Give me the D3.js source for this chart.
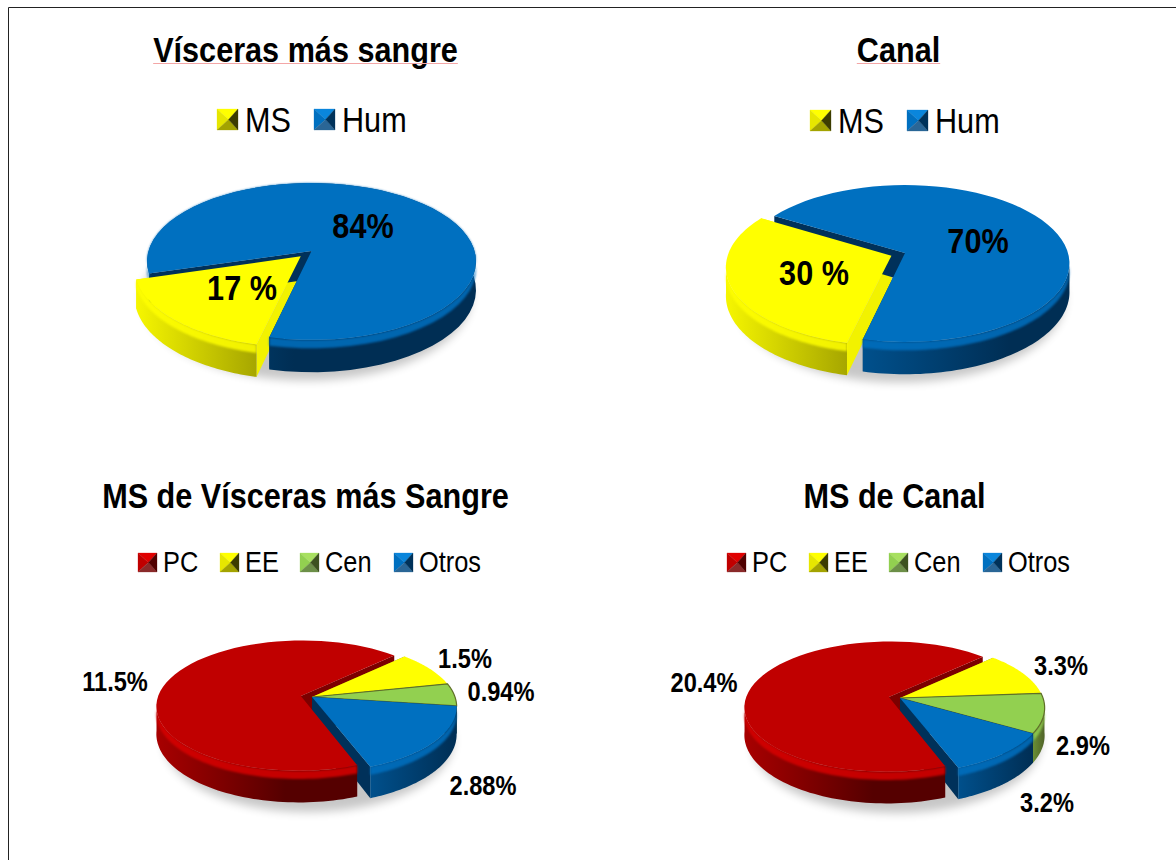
<!DOCTYPE html>
<html>
<head>
<meta charset="utf-8">
<script src="https://cdn.jsdelivr.net/npm/d3@7"></script>
<style>
  html, body { margin: 0; padding: 0; background: #fff; overflow: hidden; }
  text { font-family: "Liberation Sans", sans-serif; fill: #000; }
</style>
</head>
<body>
<div id="chart"></div>
<script>
// values
var humedadNames = ["MS", "Hum"];
var msNames = ["PC", "EE", "Cen", "Otros"];

var visceraValues = [17, 84];
var visceraLabels = ["17 %", "84%"];
var canalValues = [30, 70];
var canalLabels = ["30 %", "70%"];
var msVisceraValues = [11.5, 1.5, 0.94, 2.88];
var msVisceraLabels = ["11.5%", "1.5%", "0.94%", "2.88%"];
var msCanalValues = [20.4, 3.3, 2.9, 3.2];
var msCanalLabels = ["20.4%", "3.3%", "2.9%", "3.2%"];

// key = top, left, bottom, right triangles of the legend square
var palette = {
  MS:    { face: "#ffff00", cut: "#f2f200", wall: ["#f6f600", "#a6a600"], rim: "#ffff00", key: ["#ffff00", "#e6e600", "#a3a300", "#3c3c00"] },
  Hum:   { face: "#0070c0", cut: "#00315a", wall: ["#00508c", "#002e54"], rim: "#0070c0", key: ["#0a86dc", "#0070c0", "#2a6696", "#00325a"] },
  PC:    { face: "#c00000", cut: "#7c0000", wall: ["#a80000", "#550000"], rim: "#d80000", key: ["#e00000", "#c00000", "#8a2a2a", "#500000"] },
  EE:    { face: "#ffff00", cut: "#8a8a00", wall: ["#c8c800", "#8a8a00"], rim: "#ffff00", key: ["#ffff00", "#e6e600", "#a3a300", "#3c3c00"] },
  Cen:   { face: "#92d050", cut: "#4f6228", wall: ["#6b8f35", "#4f6228"], rim: "#92d050", key: ["#a8e060", "#92d050", "#6c8f48", "#3d5220"] },
  Otros: { face: "#0070c0", cut: "#00315a", wall: ["#00508c", "#002e54"], rim: "#0070c0", key: ["#0a86dc", "#0070c0", "#2a6696", "#00325a"] }
};

var top3d = { rx: 163, ry: 77, k: 0.134, depth: 28 };
var low3d = { rx: 143, ry: 64, k: 0.15, depth: 27 };

var charts = [
  { id: "a", title: "Vísceras más sangre", tx: 305.5, ty: 62, squiggle: true, names: humedadNames, values: visceraValues, labels: visceraLabels,
    cx: 311.5, cy: 251, geo: top3d, start: 193, explode: "MS", boom: 0.095,
    keyY: 109, keySize: 21, keyX: [217, 314], textX: [245, 342], lsize: 35, lbase: 132,
    labelPos: [[242, 300], [363, 238]] },
  { id: "b", title: "Canal", tx: 898.5, ty: 62, squiggle: true, names: humedadNames, values: canalValues, labels: canalLabels,
    cx: 905, cy: 253, geo: top3d, start: 193, explode: "MS", boom: 0.09,
    keyY: 110, keySize: 21, keyX: [810, 907], textX: [838, 935], lsize: 35, lbase: 133,
    labelPos: [[814, 285], [978, 253]] },
  { id: "c", title: "MS de Vísceras más Sangre", tx: 305.5, ty: 508, names: msNames, values: msVisceraValues, labels: msVisceraLabels,
    cx: 312, cy: 697, geo: low3d, start: 159.5, explode: "PC", boom: 0.08,
    keyY: 553, keySize: 19, keyX: [138, 220, 300, 394], textX: [163, 245, 325, 419], lsize: 29, lbase: 572,
    labelPos: [[115, 691], [465, 668], [501, 701], [483, 795]] },
  { id: "d", title: "MS de Canal", tx: 894.5, ty: 508, names: msNames, values: msCanalValues, labels: msCanalLabels,
    cx: 900, cy: 698, geo: low3d, start: 159.5, explode: "PC", boom: 0.08,
    keyY: 553, keySize: 19, keyX: [727, 809, 889, 983], textX: [752, 834, 914, 1008], lsize: 29, lbase: 572,
    labelPos: [[704, 692], [1061, 675], [1083, 755], [1047, 812]] }
];

var width = 1176, height = 860;
var narrow = 0.875;   // no narrow font installed, so squeeze the text

var svg = d3.select("#chart").append("svg")
  .attr("width", width)
  .attr("height", height)
  .style("display", "block");

var defs = svg.append("defs");
defs.append("filter").attr("id", "soft").attr("x", "-20%").attr("y", "-30%").attr("width", "140%").attr("height", "160%")
  .append("feGaussianBlur").attr("stdDeviation", 1.3);
defs.append("filter").attr("id", "shade").attr("x", "-20%").attr("y", "-40%").attr("width", "140%").attr("height", "180%")
  .append("feGaussianBlur").attr("stdDeviation", 5);

// frame
svg.append("path")
  .attr("d", d3.line()([[width, 7.5], [8.5, 7.5], [8.5, height]]))
  .attr("fill", "none")
  .attr("stroke", "#222")
  .attr("stroke-width", 1);

var toRad = Math.PI / 180;
var lineGen = d3.line();
var shapePath = function(pts) { return lineGen(pts) + "Z"; };

var narrowText = function(parent, x, y, size, anchor, weight, str) {
  return parent.append("text")
    .attr("transform", "translate(" + x + "," + y + ") scale(" + narrow + ",1)")
    .attr("text-anchor", anchor)
    .attr("font-weight", weight)
    .attr("font-size", size)
    .text(str);
};

charts.forEach(function(chart) {
  var g = svg.append("g");
  var geo = chart.geo;

  var rows = chart.names.map(function(n, i) { return { name: n, value: chart.values[i], label: chart.labels[i] }; });
  var pie = d3.pie()
    .sort(null)
    .value(function(d) { return d.value; })
    .startAngle(chart.start * toRad)
    .endAngle(chart.start * toRad + 2 * Math.PI);
  var arcs = pie(rows);

  // disc coordinates to the page, with a bit of perspective
  var project = function(theta, r, h, ex, ez) {
    var X = r * Math.sin(theta) + ex;
    var Z = r * Math.cos(theta) + ez;
    var s = 1 / (1 + geo.k * Z);
    return [chart.cx + geo.rx * X * s, chart.cy - geo.ry * Z * s + geo.depth * h * s];
  };

  var arcPoints = function(d, r, h, a0, a1) {
    return d3.range(0, 61).map(function(i) {
      return project(a0 + (a1 - a0) * i / 60, r, h, d.ex, d.ez);
    });
  };

  arcs.forEach(function(d) {
    var mid = (d.startAngle + d.endAngle) / 2;
    var off = d.data.name == chart.explode ? chart.boom : 0;
    d.ex = off * Math.sin(mid);
    d.ez = off * Math.cos(mid);
  });

  // ground shadow
  g.append("path")
    .attr("d", shapePath(d3.range(0, 120).map(function(i) {
      return project(i * 3 * toRad, 1.0, 1.25, chart.boom * -0.3, 0);
    })))
    .attr("fill", "#000")
    .attr("opacity", 0.22)
    .attr("filter", "url(#shade)");

  var drawCuts = function(d) {
    var c = palette[d.data.name];
    var outer0 = project(d.startAngle, 1, 0, d.ex, d.ez);
    var outer1 = project(d.endAngle, 1, 0, d.ex, d.ez);
    var low0 = project(d.startAngle, 1, 1, d.ex, d.ez);
    var low1 = project(d.endAngle, 1, 1, d.ex, d.ez);
    var apexTop = project(0, 0, 0, d.ex, d.ez);
    var apexLow = project(0, 0, 1, d.ex, d.ez);
    g.append("path").attr("d", shapePath([apexTop, outer0, low0, apexLow])).attr("fill", c.cut);
    g.append("path").attr("d", shapePath([apexTop, outer1, low1, apexLow])).attr("fill", c.cut);
  };

  var drawBody = function(d, idx) {
    var c = palette[d.data.name];
    var gradId = "wall-" + chart.id + "-" + idx;
    var topEdge = arcPoints(d, 1, 0, d.startAngle, d.endAngle);
    var apexTop = project(0, 0, 0, d.ex, d.ez);

    // the part of the rim facing the viewer
    var front = d3.range(0, 181).map(function(i) {
      return d.startAngle + (d.endAngle - d.startAngle) * i / 180;
    }).filter(function(t) { return Math.cos(t) < -0.1; });

    if (front.length > 1) {
      var a0 = d3.min(front), a1 = d3.max(front);
      var frontTop = arcPoints(d, 1, 0, a0, a1);
      var frontLow = arcPoints(d, 1, 1, a0, a1);
      var frontRim = arcPoints(d, 1, 0.26, a0, a1);
      var xMin = d3.min(frontTop, function(p) { return p[0]; });
      var xMax = d3.max(frontTop, function(p) { return p[0]; });

      var grad = defs.append("linearGradient").attr("id", gradId)
        .attr("gradientUnits", "userSpaceOnUse")
        .attr("x1", xMin).attr("x2", Math.max(xMin + 1, Math.min(xMax, xMin + geo.rx * 0.9)))
        .attr("y1", 0).attr("y2", 0);
      grad.append("stop").attr("offset", "0%").attr("stop-color", c.wall[0]);
      grad.append("stop").attr("offset", "100%").attr("stop-color", c.wall[1]);

      // outer wall
      g.append("path")
        .attr("d", shapePath(frontTop.concat(frontLow.slice().reverse())))
        .attr("fill", "url(#" + gradId + ")");

      // lit edge where wall meets the top
      g.append("path")
        .attr("d", shapePath(frontTop.concat(frontRim.slice().reverse())))
        .attr("fill", c.rim)
        .attr("opacity", 0.85)
        .attr("filter", "url(#soft)");
    }

    // top face
    g.append("path")
      .attr("d", shapePath([apexTop].concat(topEdge)))
      .attr("fill", c.face)
      .attr("stroke", d.data.name == "Cen" ? "#5f6f28" : "none")
      .attr("stroke-width", 1.2);
  };

  // the exploded slice's cut faces sit behind the rest, its body in front
  var moved = arcs.filter(function(d) { return d.data.name == chart.explode; });
  var others = arcs.filter(function(d) { return d.data.name != chart.explode; })
    .sort(function(a, b) {
      return Math.cos((b.startAngle + b.endAngle) / 2) - Math.cos((a.startAngle + a.endAngle) / 2);
    });

  moved.forEach(drawCuts);
  others.forEach(function(d, i) {
    drawCuts(d);
    drawBody(d, i);
  });
  moved.forEach(function(d) { drawBody(d, 9); });

  // data labels
  rows.forEach(function(d, i) {
    narrowText(g, chart.labelPos[i][0], chart.labelPos[i][1], geo == top3d ? 35 : 27, "middle", "bold", d.label);
  });

  // title
  var titleNode = narrowText(g, chart.tx, chart.ty, 35, "middle", "bold", chart.title).node();

  if (chart.squiggle) {
    var w = titleNode.getBBox().width * narrow;
    g.append("path")
      .attr("d", lineGen([[chart.tx - w / 2, chart.ty + 1.5], [chart.tx + w / 2, chart.ty + 1.5]]))
      .attr("fill", "none")
      .attr("stroke", "#f3a6a6")
      .attr("stroke-width", 1);
  }

  // legend
  chart.names.forEach(function(n, i) {
    var x = chart.keyX[i], y = chart.keyY, s = chart.keySize;
    var mid = [x + s * 0.55, y + s * 0.5];
    var corners = [[x, y], [x + s, y], [x + s, y + s], [x, y + s]];
    var key = palette[n].key;
    // top, left, bottom, right
    [[0, 1, key[0]], [3, 0, key[1]], [2, 3, key[2]], [1, 2, key[3]]].forEach(function(t) {
      g.append("path")
        .attr("d", shapePath([corners[t[0]], corners[t[1]], mid]))
        .attr("fill", t[2])
        .attr("stroke", t[2])
        .attr("stroke-width", 0.3);
    });
    narrowText(g, chart.textX[i], chart.lbase, chart.lsize, "start", "normal", n);
  });
});
</script>
</body>
</html>
